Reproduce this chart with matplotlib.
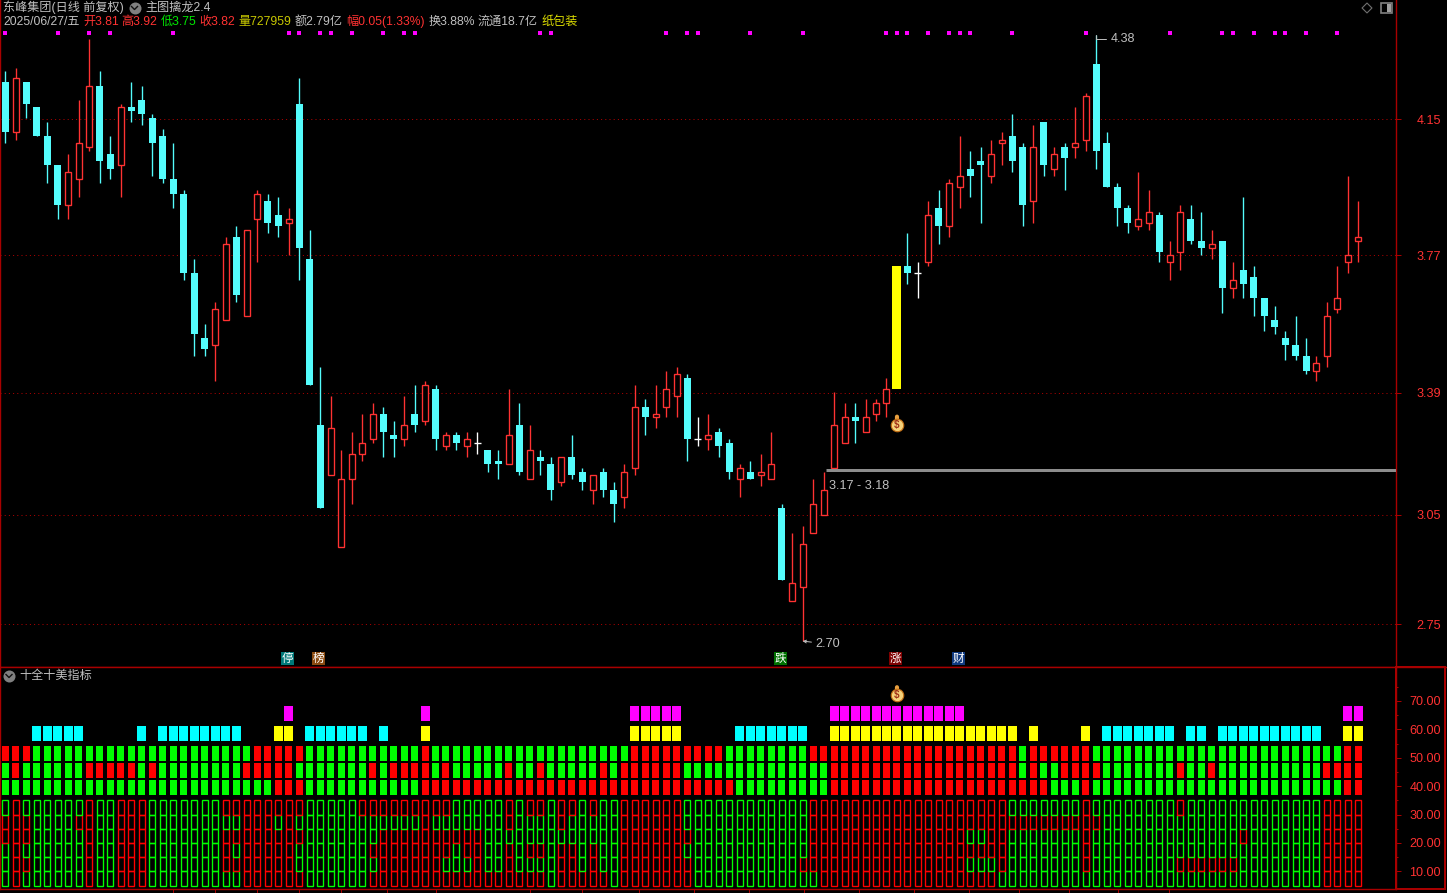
import matplotlib
matplotlib.use("Agg")
import matplotlib.pyplot as plt
from matplotlib.patches import Rectangle
from matplotlib.transforms import blended_transform_factory as btf

W, H = 1447, 893
FONT = ['Liberation Sans', 'Noto Sans CJK SC', 'DejaVu Sans']
plt.rcParams['font.family'] = FONT

# ---------- data: prices in cents ----------
open_cents = [425,411,425,418,410,402,391,398,407,424,
              405,402,418,420,415,410,398,394,372,354,
              352,359,382,360,387,392,388,386,419,376,
              330,316,296,315,322,326,333,327,326,333,
              331,340,324,327,324,325,323,320,319,330,
              315,321,319,314,321,317,312,317,312,310,
              318,335,332,335,338,343,326,326,328,325,
              315,317,316,315,307,281,285,300,305,318,
              325,332,328,333,336,340,374,372,375,390,
              385,396,401,403,399,408,410,407,392,414,
              401,407,407,409,430,408,396,390,385,386,
              388,375,378,387,381,379,381,368,373,371,
              365,359,354,352,349,345,349,362,375,381]
close_cents = [411,426,419,410,402,391,400,408,424,403,
               401,418,417,416,408,398,394,372,355,351,
               362,380,366,384,394,386,385,387,379,341,
               307,329,315,322,325,333,328,326,330,330,
               341,326,327,325,326,325,319,319,327,317,
               323,320,312,321,316,314,316,312,308,317,
               335,332,333,340,344,326,326,327,324,317,
               318,315,317,319,287,286,297,308,312,330,
               332,331,332,336,340,374,372,372,388,385,
               397,399,399,402,405,409,403,391,407,402,
               405,404,408,421,406,396,390,386,387,389,
               378,377,389,381,379,380,368,370,369,365,
               360,357,352,349,345,347,360,365,377,382]
high_cents = [428,429,425,418,414,402,405,420,437,428,
              410,419,425,424,416,412,408,395,376,358,
              364,382,385,384,395,394,393,390,426,384,
              346,338,323,328,333,336,335,331,338,341,
              342,341,328,328,328,328,323,323,340,336,
              330,323,321,321,327,318,316,318,314,319,
              341,337,341,345,346,344,332,333,329,326,
              319,320,322,328,308,300,302,315,317,339,
              336,336,337,337,343,374,383,375,392,395,
              398,410,406,407,409,411,416,408,413,414,
              407,408,418,422,438,411,397,391,400,395,
              389,381,391,391,389,384,381,375,393,374,
              365,363,356,360,354,349,364,374,399,392]
low_cents = [408,409,415,410,397,387,387,393,406,397,
             398,393,414,413,399,397,390,370,349,349,
             342,359,364,360,375,383,382,377,370,341,
             307,316,296,308,320,325,321,321,324,328,
             330,323,323,323,321,322,317,315,319,316,
             315,316,309,313,315,312,308,310,303,307,
             316,327,329,332,332,320,324,323,321,315,
             310,315,313,315,287,281,270,300,305,318,
             325,325,328,331,332,340,369,365,374,380,
             382,390,393,386,397,402,400,385,386,399,
             399,395,404,406,401,396,385,383,384,384,
             375,370,373,380,377,376,361,365,365,360,
             356,355,348,348,344,342,346,361,372,375]
limit_up_bars = [85]
dot_bars = [0,5,8,10,16,27,28,30,31,33,36,38,39,51,52,63,65,66,71,76,84,85,86,
            88,90,91,92,96,103,111,116,117,119,121,122,124,127]
grid_levels = [4.146, 3.769, 3.389, 3.0496, 2.746]
grid_labels = ['4.15', '3.77', '3.39', '3.05', '2.75']
support_level = 3.175
support_label = '3.17 - 3.18'
max_bar, max_price = 104, 4.38
min_bar, min_price = 76, 2.70
tag_bars = [27, 30, 74, 85, 91]
tag_texts = ['停', '榜', '跌', '涨', '财']
tag_colors = ['#007878', '#8a4a10', '#007000', '#800000', '#103a80']
date_ticks = [16,20,24,28,32,36.4,41,50,55,60.4,65.6,70.9,76.1,81.4,86.6,91.9,96.6,101.4,106.1,110.9]

# lower panel: state of each bar, one string per row (R / G)
row_a = ("RRRGGGGGGG" "GGGGGGGGGG" "GGGGRRRRRG" "GGGGGGGGGG" "RGGGGGGGGG" "GGGGGGGGGG" "RRRRRRRRRG"
         "GGGGGGGRRR" "RRRRRRRRRR" "RRRRRRRGRR" "RRRRGGGGGG" "GGGGGGGGGG" "GGGGGGGGRR")
row_b = ("GRGGGGGGRR" "RRRGRGGGGG" "GGGRRRRRGG" "GGGGGRGRRR" "RGRGGGGGRG" "GRGGGGGRGR" "RRRRRGGGGG"
         "GGGGGGGGGR" "RRRRRRRRRR" "RRRRRRRGRG" "GRRRRGGGGG" "GGRGGRGGGG" "GGGGGGRRRR")
row_c = ("GGGGGGGGGG" "GGGGGGGGGG" "GGGGGGRRRG" "GGGGGGGGGG" "RRRRRRRRRR" "RRRRRRRRRR" "RRRRRRRRRR"
         "GGGGGGGGGR" "RRRRRRRRRR" "RRRRRRRRRR" "GGGRGGGGGG" "GGGGGGGGGG" "GGGGGGGGRR")
cell_1 = ("GRGGGGGGRG" "GRRRGGGGGG" "GRRRRRRRRG" "GGGGRRRRRR" "RRRGGGGGRG" "RRGRRGRGGR" "RRRRRGGGGG"
          "GGGGGGGRRR" "RRRRRRRRRR" "RRRRRRGGGG" "GGGRGGGGGG" "GGRGGGGGGG" "GGGGGGRRRR")
cell_2 = ("RRRGGGGRRG" "GRRRGGGGGG" "GGGRRRGRGG" "GGGGGGGGGG" "RGGGGGGGRG" "GGGRGGGGGR" "RRRRRGGGGG"
          "GGGGGGGRRR" "RRRRRRRRRR" "RRRRRRRRRR" "RRRRRGGGGG" "GGGGGGGGGG" "GGGGGGRRRR")
cell_3 = ("RRRGGGGGRG" "GRRRGGGGGG" "GRRRRRRRRG" "GGGGGGRRRR" "RRRRRRGGGG" "GGGGGGGGGR" "RRRRRRGGGG"
          "GGGGGGGRRR" "RRRRRRRRRR" "RRGGRRGGGG" "GGGRGGGGGG" "GGGGGGGGRG" "GGGGGGRRRR")
cell_4 = ("GRGGGGGGRG" "GRRRGGGGGG" "GRGRRRRRGG" "GGGGGRRRRR" "RRRGRRGGRG" "RRGRRGRGGR" "RRRRRGGGGG"
          "GGGGGGGRRR" "RRRRRRRRRR" "RRRRRRGGGG" "GGGRGGGGGG" "GGGGGGGGGG" "GGGGGGRRRR")
cell_5 = ("GRRGGGGGRG" "GRRRGGGGGG" "GRRRRRRRGG" "GGGGGGRRRR" "RRGGGRGGRG" "GGGRRGRGGR" "RRRRRRGGGG"
          "GGGGGGRRRR" "RRRRRRRRRR" "RRGGGRGGGG" "GGGRGGGGGG" "GGRRRRRRGG" "GGGGGGRRRR")
cell_6 = ("GRGGGGGGRG" "GRRRGGGGGG" "GGGRRRRRRG" "GGGGGRRRRR" "RRRRRRRRRR" "RRGRRRRRGR" "RRRRRRGGGG"
          "GGGGGGGGRR" "RRRRRRRRRR" "RRRRRGGGGG" "GGGGGGGGGG" "GGGGGGGGGG" "GGGGGGRRRR")
cyan_bars = [3,4,5,6,7,13,15,16,17,18,19,20,21,22,29,30,31,32,33,34,36,70,71,72,73,74,75,76,
             105,106,107,108,109,110,111,113,114,116,117,118,119,120,121,122,123,124,125]
yellow_bars = [26,27,40,60,61,62,63,64,79,80,81,82,83,84,85,86,87,88,89,90,91,92,93,94,95,96,98,103,128,129]
magenta_bars = [27,40,60,61,62,63,64,79,80,81,82,83,84,85,86,87,88,89,90,91,128,129]
lower_ticks = [10, 20, 30, 40, 50, 60, 70]
lower_tick_labels = ['10.00', '20.00', '30.00', '40.00', '50.00', '60.00', '70.00']
lower_minor = [15, 25, 35, 45, 55, 65, 75]
indicator_name = '十全十美指标'

# ---------- style ----------
BG = '#000000'
FRAME = '#a80000'
GRID = '#b00000'
UP = '#ff3232'
DOWN = '#54fcfc'
GREY = '#c0c0c0'
LAB = '#ff3232'
STEP = 10.488
X0 = 5.5
PT = 0.72  # one pixel in points
LINE = PT * 1.35
TICK_FS = 9.1

fig = plt.figure(figsize=(W / 100, H / 100), dpi=100, facecolor=BG)


def new_axes(top, bottom, right=1396):
    return fig.add_axes([0, 1 - bottom / H, right / W, (bottom - top) / H], facecolor=BG)


xlim = ((0 - X0) / STEP, (1396 - X0) / STEP)

# ---------- main panel ----------
ax = new_axes(0, 666.5)
ax.set_xlim(xlim)
ax.set_ylim(2.6295, 4.4773)
for i, (o, h, l, c) in enumerate(zip(open_cents, high_cents, low_cents, close_cents)):
    o, h, l, c = o / 100, h / 100, l / 100, c / 100
    if i in limit_up_bars:
        ax.bar(i, c - o, bottom=o, width=9 / STEP, color='#ffff00', linewidth=0, zorder=4, antialiased=False)
        continue
    if c > o:
        ax.vlines(i, l, h, color=UP, lw=LINE, zorder=2, snap=True)
        ax.bar(i, c - o, bottom=o, width=6 / STEP, facecolor=BG, edgecolor=UP, linewidth=LINE, zorder=3, snap=True)
    elif c < o:
        ax.vlines(i, l, h, color=DOWN, lw=LINE, zorder=2, snap=True)
        ax.bar(i, o - c, bottom=c, width=7 / STEP, color=DOWN, linewidth=0, zorder=3, antialiased=False)
    else:
        ax.vlines(i, l, h, color='#ffffff', lw=LINE, zorder=2, snap=True)
        ax.hlines(o, i - 3.5 / STEP, i + 3.5 / STEP, color='#ffffff', lw=LINE, zorder=3, snap=True)

for lv in grid_levels:
    ax.axhline(lv, color=GRID, lw=PT, linestyle=(0, (1, 3.2)), zorder=1)

ax.hlines(support_level, 78.2, xlim[1], color='#8c8c8c', lw=PT * 3, zorder=3)
ax.annotate(support_label, xy=(78.2, support_level), xytext=(3, -16), textcoords='offset pixels',
            color=GREY, fontsize=TICK_FS, va='center', ha='left')
ax.annotate(f'{max_price:.2f}', xy=(max_bar, max_price), xytext=(14, -4), textcoords='offset pixels',
            color=GREY, fontsize=TICK_FS, va='center', ha='left',
            arrowprops=dict(arrowstyle='-', color=GREY, lw=0.7, shrinkA=1, shrinkB=0,
                            connectionstyle='angle,angleA=0,angleB=90,rad=0'))
ax.annotate(f'{min_price:.2f}', xy=(min_bar, min_price), xytext=(13, -3), textcoords='offset pixels',
            color=GREY, fontsize=TICK_FS, va='center', ha='left',
            arrowprops=dict(arrowstyle='->', color=GREY, lw=0.7, shrinkA=1, shrinkB=0, mutation_scale=5))

trans = btf(ax.transData, ax.transAxes)
ax.scatter(dot_bars, [1 - 33 / 666.5] * len(dot_bars), marker='s', s=(4 * PT) ** 2, color='#ff00ff',
           linewidths=0, transform=trans, zorder=5)
for b, t, col in zip(tag_bars, tag_texts, tag_colors):
    ax.text(b - 0.12, 1 - 658.5 / 666.5, t, transform=trans, color='#ffffff', fontsize=8.4, ha='center',
            va='center', zorder=6,
            bbox=dict(boxstyle='square,pad=0.06', facecolor=col, edgecolor='none'))


def money_bag(a, x, y):
    a.scatter([x], [y], marker='o', s=(12.5 * PT) ** 2, color='#f6d27a', edgecolors='#c06a10', linewidths=0.8, zorder=7)
    a.annotate('', xy=(x, y), xytext=(0, 8), textcoords='offset pixels',
               arrowprops=dict(arrowstyle='-', color='#e8a040', lw=3, shrinkA=0, shrinkB=4))
    a.text(x, y, '$', color='#a03018', fontsize=7, ha='center', va='center', fontweight='bold', zorder=8)


money_bag(ax, 85, 3.30)

ax.yaxis.tick_right()
ax.set_yticks(grid_levels)
ax.set_yticklabels(grid_labels, ha='right')
ax.tick_params(axis='y', colors=FRAME, labelcolor=LAB, length=5 * PT, width=PT, pad=40 * PT, labelsize=TICK_FS)
ax.set_xticks([])
for side, sp in ax.spines.items():
    sp.set_color(FRAME)
    sp.set_linewidth(PT * 1.4)
ax.spines['top'].set_visible(False)

# ---------- lower panel ----------
lo = new_axes(667, 889)
lo.set_xlim(xlim)
lo.set_ylim(3.8, 81.93)
COL = {'R': '#ff0000', 'G': '#00ff00'}
bars_x = list(range(len(row_a)))
for row, base in ((row_c, 37.0), (row_b, 43.0), (row_a, 49.0)):
    lo.bar(bars_x, [5.2] * len(bars_x), bottom=base, width=7 / STEP, color=[COL[s] for s in row], linewidth=0,
           antialiased=False, zorder=3)
for row, base in ((cell_6, 5), (cell_5, 10), (cell_4, 15), (cell_3, 20), (cell_2, 25), (cell_1, 30)):
    lo.bar(bars_x, [5] * len(bars_x), bottom=base, width=6 / STEP, fill=False,
           edgecolor=[COL[s] for s in row], linewidth=LINE, zorder=3, snap=True)
lo.bar(yellow_bars, [5.2] * len(yellow_bars), bottom=56.0, width=9 / STEP, color='#ffff00', linewidth=0,
       antialiased=False, zorder=3)
lo.bar(cyan_bars, [5.2] * len(cyan_bars), bottom=56.0, width=9 / STEP, color='#00ffff', linewidth=0,
       antialiased=False, zorder=3)
lo.bar(magenta_bars, [5.2] * len(magenta_bars), bottom=63.0, width=9 / STEP, color='#ff00ff', linewidth=0,
       antialiased=False, zorder=3)
money_bag(lo, 85, 72.0)

lo.yaxis.tick_right()
lo.set_yticks(lower_ticks)
lo.set_yticklabels(lower_tick_labels, ha='right')
lo.set_yticks(lower_minor, minor=True)
lo.tick_params(axis='y', which='major', colors=FRAME, labelcolor=LAB, length=5 * PT, width=PT, pad=40 * PT, labelsize=TICK_FS)
lo.tick_params(axis='y', which='minor', colors=FRAME, length=2.5 * PT, width=PT)
lo.set_xticks(date_ticks)
lo.set_xticklabels([])
lo.tick_params(axis='x', colors=FRAME, length=3.5 * PT, width=PT)
for side, sp in lo.spines.items():
    sp.set_color(FRAME)
    sp.set_linewidth(PT * 1.4)
lo.spines['top'].set_visible(False)

# ---------- overlay: header text, icons, frame ----------
ov = fig.add_axes([0, 0, 1, 1], facecolor='none')
ov.set_xlim(0, W)
ov.set_ylim(H, 0)
ov.axis('off')
ov.hlines(666.5, 0, W, color=FRAME, lw=PT * 1.4)
ov.add_patch(Rectangle((1396, 667), 49, 222, fill=False, edgecolor=FRAME, lw=PT * 2))

FS = 8.7
line1 = [(3, '东峰集团(日线 前复权)', GREY), (145, '主图擒龙2.4', GREY)]
line2 = [(3, '2025/06/27/五', GREY), (83, '开3.81', LAB), (121, '高3.92', LAB), (161, '低3.75', '#00e800'),
         (199, '收3.82', LAB), (238, '量727959', '#c8c800'), (295, '额2.79亿', GREY), (346, '幅0.05(1.33%)', LAB),
         (429, '换3.88%', GREY), (478, '流通18.7亿', GREY), (541, '纸包装', '#e0e000')]
for x, t, col in line1:
    ov.text(x, 7.5, t, color=col, fontsize=FS, ha='left', va='center')
for x, t, col in line2:
    ov.text(x, 22, t, color=col, fontsize=FS, ha='left', va='center')
ov.text(19, 675.5, indicator_name, color=GREY, fontsize=FS, ha='left', va='center')


def chevron_icon(x, y):
    ov.scatter([x], [y], s=(12 * PT) ** 2, color='#808080', linewidths=0)
    ov.plot([x - 3, x, x + 3], [y - 1, y + 2, y - 1], color='#101010', lw=1)


chevron_icon(134.5, 7.5)
chevron_icon(9, 675.5)
ov.scatter([1367], [8], marker='D', s=(7 * PT) ** 2, facecolor='none', edgecolors='#707070', linewidths=0.8)
ov.add_patch(Rectangle((1380.5, 3), 11, 10, fill=False, edgecolor='#808080', lw=1.2))
ov.add_patch(Rectangle((1386.5, 4), 4, 8, facecolor='#a0a0a0', edgecolor='none'))

fig.savefig('out.png', dpi=100, facecolor=BG)
